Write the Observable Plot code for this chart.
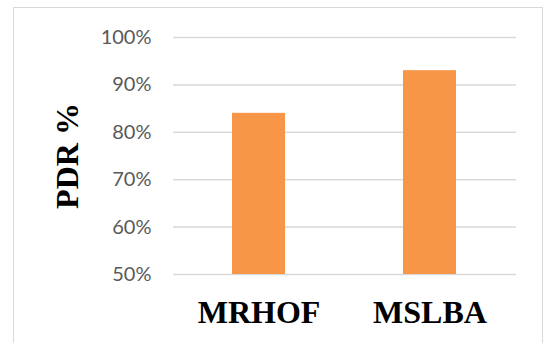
<!DOCTYPE html>
<html>
<head>
<meta charset="utf-8">
<script src="https://cdn.jsdelivr.net/npm/d3@7"></script>
<script src="https://cdn.jsdelivr.net/npm/@observablehq/plot@0.6"></script>
<style>
  html, body { margin: 0; padding: 0; background: #fff; overflow: hidden; }
  #wrap { position: relative; width: 545px; height: 343px; }
  #border {
    position: absolute; left: 13px; top: 7px; width: 530px; height: 360px;
    border: 1.5px solid #d9d9d9; box-sizing: border-box; pointer-events: none;
  }
  #chart { position: absolute; left: 0; top: 0; }
</style>
</head>
<body>
<div id="wrap">
  <div id="chart"></div>
  <div id="border"></div>
</div>
<script>
// Packet delivery ratio per routing objective function
const protocols = ["MRHOF", "MSLBA"];
const pdr = [0.84, 0.93];
const yTicks = [0.5, 0.6, 0.7, 0.8, 0.9, 1.0];

const data = protocols.map((p, i) => ({protocol: p, pdr: pdr[i]}));

const chart = Plot.plot({
  width: 545,
  height: 343,
  marginLeft: 173,
  marginRight: 29,
  marginTop: 37,
  marginBottom: 69,
  style: {background: "transparent"},
  x: {domain: protocols, paddingInner: 0.69, paddingOuter: 0.345},
  y: {domain: [0.5, 1.0]},
  marks: [
    Plot.ruleY(yTicks, {stroke: "#d9d9d9", strokeWidth: 1.5}),
    Plot.barY(data, {x: "protocol", y1: 0.5, y2: "pdr", fill: "#F79646"}),
    Plot.axisY(yTicks, {
      tickSize: 0, tickPadding: 22, tickFormat: d3.format(".0%"),
      fontSize: 20, fontFamily: "Lato", fill: "#595959",
      label: "PDR %", labelAnchor: "center", labelArrow: "none", labelOffset: 118
    }),
    Plot.axisX({
      tickSize: 0, tickPadding: 26, label: null,
      fontSize: 32, fontWeight: "bold", fontFamily: "Liberation Serif", fill: "#000"
    })
  ]
});

// y-axis title uses the same bold serif as the category labels
chart.querySelectorAll("g[aria-label='y-axis label'] text").forEach(t => {
  t.setAttribute("font-size", 32);
  t.setAttribute("font-weight", "bold");
  t.setAttribute("font-family", "Liberation Serif");
  t.setAttribute("fill", "#000");
});
chart.querySelectorAll("g[aria-label='y-axis label']").forEach(g => {
  g.setAttribute("font-size", 32);
  g.setAttribute("font-weight", "bold");
  g.setAttribute("font-family", "Liberation Serif");
  g.setAttribute("fill", "#000");
});

document.getElementById("chart").appendChild(chart);
</script>
</body>
</html>
